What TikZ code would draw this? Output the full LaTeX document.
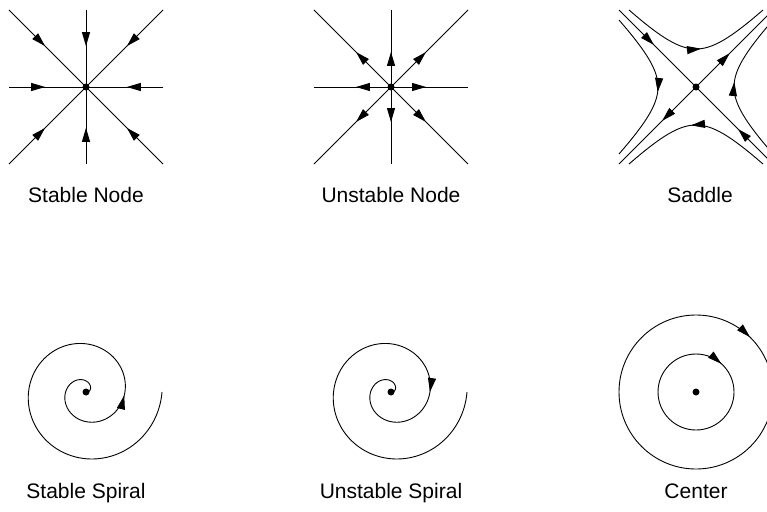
\documentclass[tikz,border=0pt]{standalone}
\usepackage{fontspec}
\setmainfont{Liberation Sans}
\usetikzlibrary{arrows.meta,decorations.markings}
\begin{document}
\begin{tikzpicture}[x=1pt,y=-1pt,
  >={Triangle[length=14pt,width=8pt]},
  traj/.style={line width=0.9pt},
  midarrow/.style={postaction={decorate},decoration={markings,mark=at position #1 with {\arrow{>}}}},
  headseg/.style={line width=0.9pt,->},
  dotnode/.style={circle,fill,inner sep=0pt,minimum size=7pt},
  lbl/.style={font=\fontsize{21}{25}\selectfont,anchor=base}]
\useasboundingbox (0,0) rectangle (767,511);
\clip (0,0) rectangle (767,511);
% ---- fixed points
\node[dotnode] (sn) at (86,87) {};
\node[dotnode] (un) at (391,87) {};
\node[dotnode] (sd) at (696,87) {};
\node[dotnode] (ss) at (86,392) {};
\node[dotnode] (us) at (391,392) {};
\node[dotnode] (ce) at (696,392) {};
% ---- stable node
\foreach \a/\r in {0/77,45/108.9,90/77,135/108.9,180/77,225/108.9,270/77,315/108.9}
  \draw[traj,midarrow=0.47] ([shift={(\a:\r)}]sn.center) coordinate (sn-\a) -- (sn.center);
% ---- unstable node
\foreach \a/\r in {0/77,45/108.9,90/77,135/108.9,180/77,225/108.9,270/77,315/108.9}
  \draw[traj,midarrow=0.455] (un.center) -- ([shift={(\a:\r)}]un.center) coordinate (un-\a);
% ---- saddle
\foreach \a in {45,225}
  \draw[traj,midarrow=0.455] ([shift={(\a:108.9)}]sd.center) coordinate (sd-\a) -- (sd.center);
\foreach \a in {135,315}
  \draw[traj,midarrow=0.44] (sd.center) -- ([shift={(\a:108.9)}]sd.center) coordinate (sd-\a);
\draw[traj] plot[domain=-67:67,samples=61,smooth,variable=\u] ({696+\u},{87-sqrt(\u*\u+1444)});
\draw[traj] plot[domain=-67:67,samples=61,smooth,variable=\u] ({696-\u},{87+sqrt(\u*\u+1444)});
\draw[traj] plot[domain=-67:67,samples=61,smooth,variable=\u] ({696-sqrt(\u*\u+1444)},{87+\u});
\draw[traj] plot[domain=-67:67,samples=61,smooth,variable=\u] ({696+sqrt(\u*\u+1444)},{87-\u});
\draw[headseg] (699,48.88) -- (701,48.67);
\draw[headseg] (693,125.12) -- (691,125.33);
\draw[headseg] (657.88,90) -- (657.67,92);
\draw[headseg] (734.12,84) -- (734.33,82);
% ---- spirals
\draw[traj] plot[domain=0:715,samples=240,smooth,variable=\p] ({86+(76-0.103*\p)*cos(\p)},{392+(76-0.103*\p)*sin(\p)});
\draw[headseg] (123.77,397.29) -- (124.25,395.35);
\draw[traj] plot[domain=0:715,samples=240,smooth,variable=\p] ({391+(76-0.103*\p)*cos(\p)},{392+(76-0.103*\p)*sin(\p)});
\draw[headseg] (430.22,390.02) -- (429.92,392);
% ---- center
\draw[traj] (ce.center) circle[radius=38];
\draw[traj] (ce.center) circle[radius=77];
\draw[headseg] (719.9,362.5) -- (721.4,363.8);
\draw[headseg] (748.55,335.7) -- (749.98,337.1);
% ---- labels
\node[lbl] (l1) at (86,202) {Stable Node};
\node[lbl] (l2) at (391,202) {Unstable Node};
\node[lbl] (l3) at (700,202) {Saddle};
\node[lbl] (l4) at (86,498) {Stable Spiral};
\node[lbl] (l5) at (391,498) {Unstable Spiral};
\node[lbl] (l6) at (696,498) {Center};
\end{tikzpicture}
\end{document}
